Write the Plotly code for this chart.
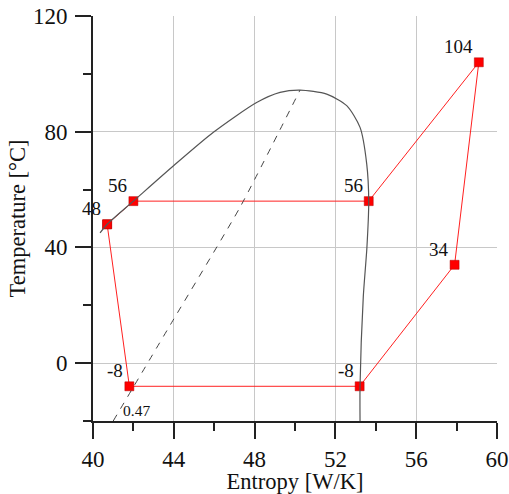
import plotly.graph_objects as go

# Refrigeration cycle state points
cycle_s = [40.7, 42.0, 53.65, 59.1, 57.9, 53.2, 41.8, 40.7]
cycle_T = [48, 56, 56, 104, 34, -8, -8, 48]
point_labels = ["48", "56", "56", "104", "34", "-8", "-8"]

# Saturation dome
dome_s = [40.35, 40.7, 42.0, 44.0, 45.96, 48.1, 49.26, 50.25, 51.57, 52.56,
          53.22, 53.55, 53.65, 53.56, 53.38, 53.22, 53.22]
dome_T = [45, 48, 56, 68.3, 79.8, 90.1, 93.6, 94.4, 93.0, 89.0,
          81.5, 68.9, 56, 40, 22.9, -8, -20]

# Constant quality line
quality_s = [41.0, 43.96, 47.28, 50.25]
quality_T = [-20, 14.8, 53.9, 94.4]
quality_label = "0.47"

x_ticks = [40, 44, 48, 52, 56, 60]
x_minor = [42, 46, 50, 54, 58]
y_ticks = [0, 40, 80, 120]
y_minor = [-20, 20, 60, 100]

FONT = "Liberation Serif"

fig = go.Figure()

fig.add_trace(go.Scatter(
    x=cycle_s, y=cycle_T, mode="lines+markers",
    line=dict(color="#ff2020", width=1),
    marker=dict(symbol="square", size=9, color="#ff0000",
                line=dict(color="#b00000", width=0.5)),
    hoverinfo="skip", showlegend=False,
))

fig.add_trace(go.Scatter(
    x=dome_s, y=dome_T, mode="lines",
    line=dict(color="#555555", width=1.2, shape="spline", smoothing=0.7),
    hoverinfo="skip", showlegend=False,
))

fig.add_trace(go.Scatter(
    x=quality_s, y=quality_T, mode="lines",
    line=dict(color="#444444", width=1, dash="7px,7px", shape="spline", smoothing=0.5),
    hoverinfo="skip", showlegend=False,
))

for s, t, lab in zip(cycle_s[:-1], cycle_T[:-1], point_labels):
    fig.add_annotation(x=s, y=t, text=lab, showarrow=False,
                       xanchor="right", yanchor="bottom", xshift=-4, yshift=3,
                       font=dict(family=FONT, size=19, color="#111"))

fig.add_annotation(x=quality_s[0], y=quality_T[0], text=quality_label, showarrow=False,
                   xanchor="left", yanchor="bottom", xshift=8, yshift=0,
                   font=dict(family=FONT, size=15.5, color="#111"))

fig.update_layout(
    width=509, height=494,
    margin=dict(l=93, r=12, t=16, b=73),
    plot_bgcolor="white", paper_bgcolor="white",
    font=dict(family=FONT, size=23, color="#111"),
    xaxis=dict(
        range=[40, 60], tickvals=x_ticks, ticks="outside", ticklen=16, tickwidth=1.5,
        tickcolor="#222", showline=True, linecolor="#222", linewidth=2,
        showgrid=True, gridcolor="#c8c8c8", gridwidth=1, zeroline=False,
        automargin=False, ticklabeloverflow="allow",
        minor=dict(tickvals=x_minor, ticks="outside", ticklen=8, tickwidth=1.5,
                   tickcolor="#222", showgrid=False),
        title=dict(text="Entropy [W/K]", standoff=11, font=dict(size=22.5)),
        tickfont=dict(size=23),
    ),
    yaxis=dict(
        range=[-20, 120], tickvals=y_ticks, ticks="outside", ticklen=16, tickwidth=1.5,
        tickcolor="#222", showline=True, linecolor="#222", linewidth=2,
        showgrid=True, gridcolor="#c8c8c8", gridwidth=1, zeroline=False,
        automargin=False, ticklabelstandoff=3, ticklabeloverflow="allow",
        minor=dict(tickvals=y_minor, ticks="outside", ticklen=8, tickwidth=1.5,
                   tickcolor="#222", showgrid=False),
        title=dict(text="Temperature [°C]", standoff=1, font=dict(size=22.5)),
        tickfont=dict(size=23),
    ),
)

fig.write_html(
    "out.html",
    config={"displayModeBar": False},
    post_script="document.body.style.margin='0';document.body.style.overflow='hidden';",
)
